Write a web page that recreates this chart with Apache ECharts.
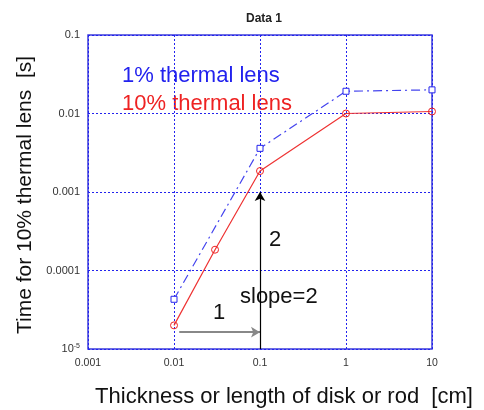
<!DOCTYPE html>
<html><head><meta charset="utf-8">
<script src="https://cdn.jsdelivr.net/npm/echarts@6/dist/echarts.min.js"></script>
<style>html,body{margin:0;padding:0;background:#fff}#c{width:484px;height:410px}</style>
</head><body><div id="c"></div>
<script>
const blueX = [0.01, 0.1, 1, 10];
const blueY = [4.3e-5, 0.0036, 0.0192, 0.020];
const redX = [0.01, 0.03, 0.1, 1, 10];
const redY = [2.0e-5, 1.84e-4, 0.00185, 0.010, 0.0106];
const xTicks = [0.001, 0.01, 0.1, 1, 10];
const yTicks = [1e-5, 1e-4, 0.001, 0.01, 0.1];
const grayArrow = [[0.0115, 1.64e-5], [0.1, 1.64e-5]];
const blackArrow = [[0.1, 1e-5], [0.1, 0.001]];

const chart = echarts.init(document.getElementById('c'));
const font = 'Liberation Sans, Arial, sans-serif';
chart.setOption({
  animation: false,
  title: {text: 'Data 1', left: 259, top: 8, textAlign: 'center',
    textStyle: {fontSize: 12, fontWeight: 'bold', color: '#222', fontFamily: font}},
  grid: {left: 88, right: 52, top: 35, bottom: 61, show: true, borderColor: '#3c3cdc', borderWidth: 1.5,
    containLabel: false, outerBoundsMode: 'none'},
  xAxis: {type: 'log', logBase: 10, min: 0.001, max: 10,
    name: 'Thickness or length of disk or rod  [cm]', nameLocation: 'middle', nameGap: 37,
    nameTextStyle: {fontSize: 22, color: '#111', fontFamily: font, padding: [0, 0, 0, 48]},
    axisLine: {show: false}, axisTick: {show: false},
    axisLabel: {fontSize: 10.5, color: '#333', fontFamily: font, margin: 9,
      formatter: v => { const f = xTicks.find(t => Math.abs(Math.log10(t) - Math.log10(v)) < 1e-6); return f === undefined ? '' : String(f); }},
    splitLine: {show: true, lineStyle: {color: '#2222ee', type: [2, 2], width: 1}}},
  yAxis: {type: 'log', logBase: 10, min: 1e-5, max: 0.1,
    name: 'Time for 10% thermal lens  [s]', nameLocation: 'middle', nameGap: 52,
    nameTextStyle: {fontSize: 21, color: '#111', fontFamily: font, padding: [0, 6, 0, 0]},
    axisLine: {show: false}, axisTick: {show: false},
    axisLabel: {fontSize: 11, color: '#333', fontFamily: font, margin: 8,
      formatter: v => { const e = Math.round(Math.log10(v)); if (e === -5) return '10{sup|-5}'; return yTicks.find(t => Math.round(Math.log10(t)) === e).toFixed(-e); },
      rich: {sup: {fontSize: 7, verticalAlign: 'top', padding: [0, 0, 6, 0], color: '#333'}}},
    splitLine: {show: true, lineStyle: {color: '#2222ee', type: [2, 2], width: 1}}},
  graphic: [
    {type: 'text', left: 122, top: 65, style: {text: '1% thermal lens', font: '22px ' + font, fill: '#2222ee'}},
    {type: 'text', left: 122, top: 93, style: {text: '10% thermal lens', font: '22px ' + font, fill: '#ee2222'}},
    {type: 'text', left: 269, top: 229, style: {text: '2', font: '22px ' + font, fill: '#111'}},
    {type: 'text', left: 240, top: 286, style: {text: 'slope=2', font: '22px ' + font, fill: '#111'}},
    {type: 'text', left: 213, top: 302, style: {text: '1', font: '22px ' + font, fill: '#111'}}
  ],
  series: [
    {type: 'line', data: blueX.map((x, i) => [x, blueY[i]]), symbol: 'rect', symbolSize: 6,
      itemStyle: {color: '#fff', borderColor: '#2222ee', borderWidth: 1},
      lineStyle: {color: '#4444ee', width: 1.2, type: [9, 4, 2, 4]}, z: 3},
    {type: 'line', data: redX.map((x, i) => [x, redY[i]]), symbol: 'circle', symbolSize: 7,
      itemStyle: {color: 'rgba(255,255,255,0)', borderColor: '#ee2222', borderWidth: 1},
      lineStyle: {color: '#ee3333', width: 1.2}, z: 3,
      markLine: {silent: true, symbol: ['none', 'arrow'], symbolSize: [8, 9], label: {show: false},
        data: [
          [{coord: grayArrow[0], lineStyle: {color: '#888', width: 2, type: 'solid'}}, {coord: grayArrow[1]}],
          [{coord: blackArrow[0], lineStyle: {color: '#000', width: 1.2, type: 'solid'}}, {coord: blackArrow[1]}]
        ]}}
  ]
});
</script></body></html>
